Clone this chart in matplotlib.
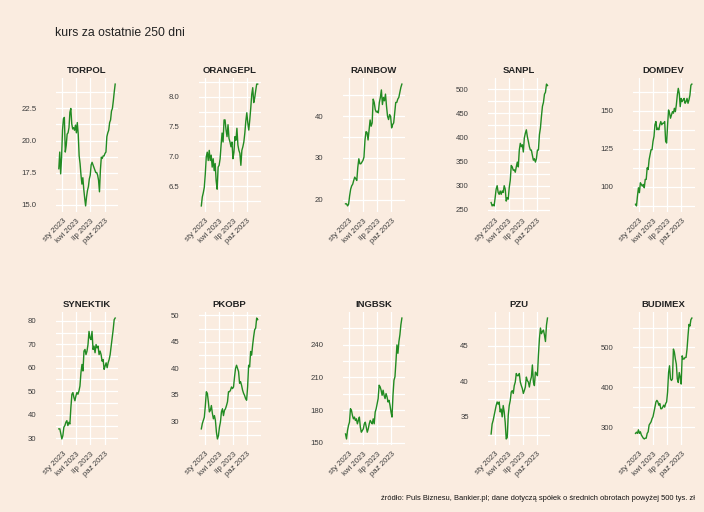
import matplotlib
matplotlib.use("Agg")
import matplotlib.pyplot as plt
import matplotlib.dates as mdates
import numpy as np
import pandas as pd

plt.rcParams['font.family'] = ['Liberation Sans', 'DejaVu Sans']

# ---------------- data ----------------
names = ["TORPOL", "ORANGEPL", "RAINBOW", "SANPL", "DOMDEV",
         "SYNEKTIK", "PKOBP", "INGBSK", "PZU", "BUDIMEX"]

torpol = [17.8, 19.1, 17.4, 18.7, 20.8, 21.7, 21.8, 19.1, 19.6, 20.5, 20.6, 21.0, 22.2, 22.5,
          21.3, 20.9, 21.0, 20.8, 21.2, 20.6, 21.4, 20.5, 18.8, 18.2, 17.3, 16.6, 17.1, 16.2,
          15.5, 14.9, 15.6, 16.1, 16.4, 17.0, 17.3, 18.1, 18.3, 18.1, 17.9, 17.7, 17.5, 17.5,
          17.3, 16.9, 16.0, 17.7, 18.7, 18.6, 18.8, 18.8, 19.0, 19.1, 20.3, 20.6, 20.8, 21.4,
          21.6, 22.3, 22.5, 23.1, 23.8, 24.4]
orangepl = [6.17, 6.32, 6.39, 6.48, 6.70, 6.99, 7.07, 6.93, 7.10, 6.93, 7.02, 6.82, 6.96, 6.76,
            6.88, 6.59, 6.45, 6.82, 6.85, 6.96, 7.19, 7.39, 7.24, 7.61, 7.61, 7.44, 7.33, 7.53,
            7.30, 7.24, 7.16, 7.24, 6.96, 7.07, 7.33, 7.27, 7.47, 7.19, 7.10, 7.05, 6.85, 7.10,
            7.16, 7.24, 7.39, 7.59, 7.73, 7.56, 7.44, 7.61, 7.81, 8.04, 8.15, 7.90, 7.98, 8.10,
            8.21, 8.21]
rainbow = [19.0, 19.0, 18.5, 18.9, 20.9, 22.5, 23.3, 23.7, 24.6, 25.4, 25.0, 24.6, 27.8, 29.8,
           28.6, 28.6, 29.0, 29.4, 30.2, 34.3, 36.3, 36.1, 34.3, 36.7, 39.1, 37.6, 38.4, 44.1,
           43.3, 41.6, 41.0, 41.2, 40.8, 43.3, 44.5, 46.3, 42.8, 44.5, 43.7, 45.3, 42.4, 40.0,
           39.2, 40.4, 40.0, 37.2, 38.0, 38.4, 40.8, 43.3, 43.3, 44.1, 44.5, 45.7, 46.9, 47.7]
sanpl = [265, 258, 261, 258, 275, 293, 300, 286, 282, 289, 282, 289, 286, 300, 293, 268, 275,
         272, 296, 311, 342, 339, 332, 333, 328, 339, 349, 339, 374, 388, 381, 385, 370, 399,
         409, 416, 402, 392, 381, 374, 374, 363, 353, 356, 349, 356, 374, 374, 406, 420, 444,
         465, 473, 490, 494, 511, 508]
domdev = [88.5, 87.4, 93.9, 99.3, 96.1, 102.6, 101.5, 100.4, 101.5, 99.3, 104.8, 104.8, 112.4,
          111.3, 117.8, 121.1, 124.3, 124.3, 129.8, 133.0, 140.7, 142.8, 137.4, 138.5, 137.4,
          140.7, 142.8, 140.7, 141.7, 141.7, 142.8, 129.8, 128.7, 140.7, 150.4, 148.3, 145.0,
          147.2, 149.3, 148.3, 151.5, 149.3, 153.7, 160.2, 164.6, 161.3, 152.6, 158.0, 155.9,
          157.0, 158.0, 154.8, 155.9, 158.0, 154.8, 157.0, 160.2, 166.7, 167.4]
synektik = [33.9, 33.9, 31.8, 29.6, 31.0, 34.6, 35.3, 36.7, 37.4, 35.3, 36.7, 36.0, 43.1, 48.7,
            49.4, 47.3, 45.9, 48.0, 49.4, 48.7, 50.1, 52.2, 57.9, 61.4, 58.6, 67.1, 67.8, 65.6,
            67.1, 69.9, 75.5, 72.7, 72.0, 75.5, 67.8, 69.2, 66.4, 69.9, 68.5, 69.2, 65.6, 67.1,
            65.6, 62.8, 63.5, 59.3, 60.7, 62.1, 60.0, 62.1, 63.5, 65.6, 69.2, 72.7, 76.2, 80.5,
            81.2]
pkobp = [28.6, 29.6, 30.2, 30.8, 33.0, 35.6, 35.3, 33.7, 31.8, 32.1, 33.0, 31.5, 30.5, 31.1,
         30.2, 28.0, 26.7, 27.3, 28.9, 29.9, 31.8, 32.4, 31.1, 32.1, 32.4, 33.0, 33.7, 35.6,
         35.6, 35.9, 36.5, 36.2, 36.5, 38.4, 40.0, 40.6, 40.0, 39.4, 37.2, 37.5, 36.8, 35.9,
         35.3, 34.9, 34.3, 34.0, 36.5, 40.6, 40.3, 43.2, 42.5, 44.4, 46.0, 47.3, 47.6, 49.5,
         49.2]
ingbsk = [158.1, 153.5, 161.2, 165.9, 168.9, 181.3, 179.8, 175.1, 172.0, 173.6, 170.5, 172.0,
          167.4, 170.5, 173.6, 164.3, 159.7, 161.2, 162.8, 167.4, 168.9, 164.3, 159.7, 162.8,
          167.4, 170.5, 168.9, 167.4, 172.0, 167.4, 178.2, 181.3, 185.9, 190.6, 202.9, 201.4,
          198.3, 193.6, 198.3, 193.6, 190.6, 195.2, 192.1, 187.5, 189.0, 184.4, 178.2, 173.6,
          193.6, 207.5, 210.6, 224.5, 239.9, 232.2, 243.0, 249.2, 258.5, 264.6]
pzu = [32.6, 34.0, 34.5, 35.2, 35.9, 36.6, 37.1, 36.8, 37.1, 35.7, 36.1, 35.0, 36.6, 35.7,
       34.2, 31.9, 32.1, 35.2, 36.6, 37.3, 38.5, 38.7, 38.3, 39.4, 39.9, 41.1, 40.8, 40.8,
       41.1, 39.9, 39.4, 39.0, 38.3, 38.7, 39.2, 40.6, 40.1, 39.9, 39.2, 40.1, 40.6, 42.3,
       39.9, 39.4, 41.3, 41.1, 40.8, 43.7, 46.0, 47.5, 46.7, 47.0, 47.2, 46.5, 45.6, 47.9,
       48.9]
budimex = [284, 287, 284, 293, 284, 288, 280, 276, 272, 270, 272, 272, 284, 288, 305, 309, 313,
           321, 326, 338, 350, 363, 367, 363, 355, 359, 346, 346, 350, 355, 350, 359, 363, 388,
           437, 454, 421, 417, 421, 496, 488, 471, 458, 421, 412, 437, 425, 408, 479, 471, 471,
           475, 475, 496, 529, 558, 554, 570, 574]

series = [torpol, orangepl, rainbow, sanpl, domdev,
          synektik, pkobp, ingbsk, pzu, budimex]

y_ticks = [[15.0, 17.5, 20.0, 22.5],
           [6.5, 7.0, 7.5, 8.0],
           [20, 30, 40],
           [250, 300, 350, 400, 450, 500],
           [100, 125, 150],
           [30, 40, 50, 60, 70, 80],
           [30, 35, 40, 45, 50],
           [150, 180, 210, 240],
           [35, 40, 45],
           [300, 400, 500]]
y_labels = [["15.0", "17.5", "20.0", "22.5"],
            ["6.5", "7.0", "7.5", "8.0"],
            ["20", "30", "40"],
            ["250", "300", "350", "400", "450", "500"],
            ["100", "125", "150"],
            ["30", "40", "50", "60", "70", "80"],
            ["30", "35", "40", "45", "50"],
            ["150", "180", "210", "240"],
            ["35", "40", "45"],
            ["300", "400", "500"]]

x_tick_dates = ["2023-01-01", "2023-04-01", "2023-07-01", "2023-10-01"]
x_tick_labels = ["sty 2023", "kwi 2023", "lip 2023", "paź 2023"]
start_date, end_date = "2022-12-09", "2023-12-08"

title = "kurs za ostatnie 250 dni"
caption = ("źródło: Puls Biznesu, Bankier.pl; dane dotyczą spółek o średnich "
           "obrotach powyżej 500 tys. zł")

# ---------------- style ----------------
BG = "#FAECE0"
LINE = "#228B22"
TXT = "#3C3C3C"
W, H = 704, 512

fig = plt.figure(figsize=(W / 100, H / 100), dpi=100, facecolor=BG)

lefts = [56, 198.5, 342.7, 488.3, 632.7]
pw = 62
rows = [(78, 212), (312, 445)]

xt = pd.to_datetime(x_tick_dates)

for i, (name, vals) in enumerate(zip(names, series)):
    r, c = divmod(i, 5)
    top, bot = rows[r]
    ax = fig.add_axes([lefts[c] / W, 1 - bot / H, pw / W, (bot - top) / H])
    ax.set_facecolor(BG)
    dates = pd.date_range(start_date, end_date, periods=len(vals))
    ax.plot(dates, vals, color=LINE, lw=1.0, zorder=3)
    ax.margins(x=0.05, y=0.05)
    xl = ax.get_xlim()
    yl = ax.get_ylim()

    yt = y_ticks[i]
    step = yt[1] - yt[0]
    minor = [yt[0] - step / 2] + [(a + b) / 2 for a, b in zip(yt[:-1], yt[1:])] + [yt[-1] + step / 2]
    ax.set_yticks(yt)
    ax.set_yticklabels(y_labels[i])
    ax.set_yticks(minor, minor=True)
    ax.set_xticks(xt)
    ax.set_xticklabels(x_tick_labels, rotation=45, ha="right", va="top",
                       rotation_mode="anchor")
    ax.set_xlim(xl)
    ax.set_ylim(yl)

    ax.grid(which="major", axis="both", color="white", lw=0.9, zorder=1)
    ax.grid(which="minor", axis="y", color="white", lw=0.9, zorder=1)
    for s in ax.spines.values():
        s.set_visible(False)
    ax.tick_params(which="both", length=0)
    ax.tick_params(axis="y", labelsize=5.6, labelcolor=TXT, pad=14)
    ax.tick_params(axis="x", labelsize=5.6, labelcolor=TXT, pad=4)
    ax.set_title(name, fontsize=6.8, fontweight="bold", color="#222222", pad=3.3)

fig.text(55 / W, 1 - 33 / H, title, fontsize=8.8, color="#222222",
         ha="left", va="center")
fig.text(695 / W, 1 - 498 / H, caption, fontsize=5.4, color="#111111",
         ha="right", va="center")

fig.savefig("out.png", dpi=100, facecolor=BG)
